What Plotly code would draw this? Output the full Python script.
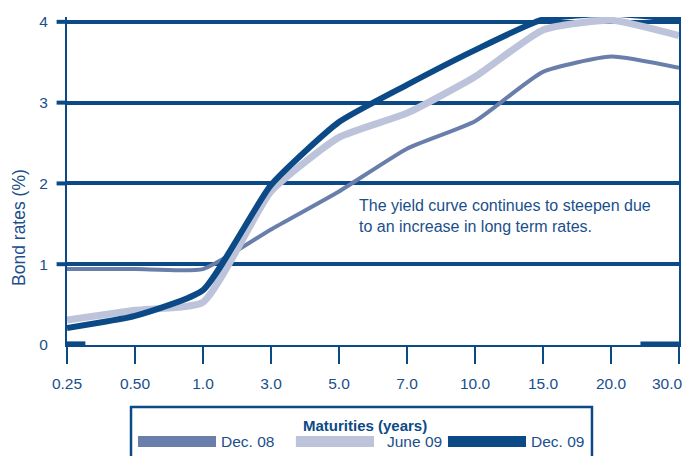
import plotly.graph_objects as go

maturities = ["0.25", "0.50", "1.0", "3.0", "5.0", "7.0", "10.0", "15.0", "20.0", "30.0"]
dec08 = [0.94, 0.94, 0.94, 1.43, 1.9, 2.43, 2.77, 3.38, 3.57, 3.43]
jun09 = [0.31, 0.43, 0.53, 1.9, 2.57, 2.87, 3.32, 3.9, 4.02, 3.83]
dec09 = [0.21, 0.36, 0.68, 1.98, 2.76, 3.22, 3.65, 4.03, 4.1, 4.03]
series_names = ["Dec. 08", "June 09", "Dec. 09"]
series_colors = ["#6A7EAB", "#BCC3DA", "#0B4A86"]
series_widths = [4, 7, 6]
y_ticks = [0, 1, 2, 3, 4]

DARK = "#0B4A86"
TXT = "#1A4F8C"
FONT = "Liberation Sans, Arial, sans-serif"

fig = go.Figure()
for name, vals, col, w in zip(series_names, [dec08, jun09, dec09], series_colors, series_widths):
    fig.add_trace(go.Scatter(x=maturities, y=vals, mode="lines", name=name,
                             line=dict(color=col, width=w, shape="spline", smoothing=0.5),
                             showlegend=False, hoverinfo="skip"))

shapes = []
# gridline stubs left of the y axis
for v in y_ticks[1:]:
    shapes.append(dict(type="line", xref="paper", yref="y", x0=-0.017, x1=0, y0=v, y1=v,
                       line=dict(color=DARK, width=4), layer="below"))
# short thick segments at zero
shapes.append(dict(type="line", xref="paper", yref="y", x0=0, x1=0.03, y0=0.02, y1=0.02,
                   line=dict(color=DARK, width=4)))
shapes.append(dict(type="line", xref="paper", yref="y", x0=0.937, x1=1, y0=0.02, y1=0.02,
                   line=dict(color=DARK, width=4)))
# legend box
shapes.append(dict(type="rect", xref="paper", yref="paper", x0=0.1046, x1=0.8578, y0=-0.42, y1=-0.189,
                   line=dict(color=DARK, width=2.5), fillcolor="rgba(0,0,0,0)"))

annotations = [
    dict(text="Bond rates (%)", xref="paper", yref="paper", x=-0.0784, y=0.357, textangle=-90,
         showarrow=False, font=dict(family=FONT, size=17.5, color=TXT), xanchor="center", yanchor="middle"),
    dict(text="The yield curve continues to steepen due<br>to an increase in long term rates.",
         xref="paper", yref="paper", x=0.4739, y=0.457, showarrow=False, align="left",
         xanchor="left", yanchor="top", font=dict(family=FONT, size=16, color=TXT)),
    dict(text="<b>Maturities (years)</b>", xref="paper", yref="paper", x=0.487, y=-0.244,
         showarrow=False, xanchor="center", yanchor="middle", font=dict(family=FONT, size=15, color=DARK)),
    # last tick label, nudged left so it stays inside the page
    dict(text=maturities[-1], xref="paper", yref="paper", x=1.0105, y=-0.1159, showarrow=False,
         xanchor="right", yanchor="middle", font=dict(family=FONT, size=15.5, color=TXT)),
]

swatch_x = [(0.116, 0.2435), (0.374, 0.5016), (0.6225, 0.75)]
label_x = [0.2484, 0.5196, 0.755]
for name, col, (a, b), lx in zip(series_names, series_colors, swatch_x, label_x):
    shapes.append(dict(type="rect", xref="paper", yref="paper", x0=a, x1=b, y0=-0.311, y1=-0.2774,
                       line=dict(width=0), fillcolor=col))
    annotations.append(dict(text=name, xref="paper", yref="paper", x=lx, y=-0.2957, showarrow=False,
                            xanchor="left", yanchor="middle", font=dict(family=FONT, size=15.5, color=TXT)))

fig.update_layout(
    width=686, height=456,
    margin=dict(l=67, r=7, t=17, b=111),
    paper_bgcolor="white", plot_bgcolor="white",
    font=dict(family=FONT, color=TXT),
    shapes=shapes, annotations=annotations,
    showlegend=False,
)
fig.update_xaxes(type="category", range=[0, 9], showgrid=False, zeroline=False, automargin=False,
                 tickvals=maturities, ticktext=maturities[:-1] + [""],
                 showline=True, linecolor=DARK, linewidth=2,
                 ticks="outside", ticklen=17, tickwidth=2, tickcolor=DARK,
                 tickfont=dict(family=FONT, size=15.5, color=TXT), ticklabelstandoff=6)
fig.update_yaxes(range=[0, 4.06], tickvals=y_ticks, ticktext=[str(v) for v in y_ticks], automargin=False,
                 showgrid=True, gridcolor=DARK, gridwidth=4, zeroline=False,
                 showline=True, linecolor=DARK, linewidth=2, mirror=True, ticks="",
                 tickfont=dict(family=FONT, size=15.5, color=TXT), ticklabelstandoff=14)

fig.write_html("out.html")
